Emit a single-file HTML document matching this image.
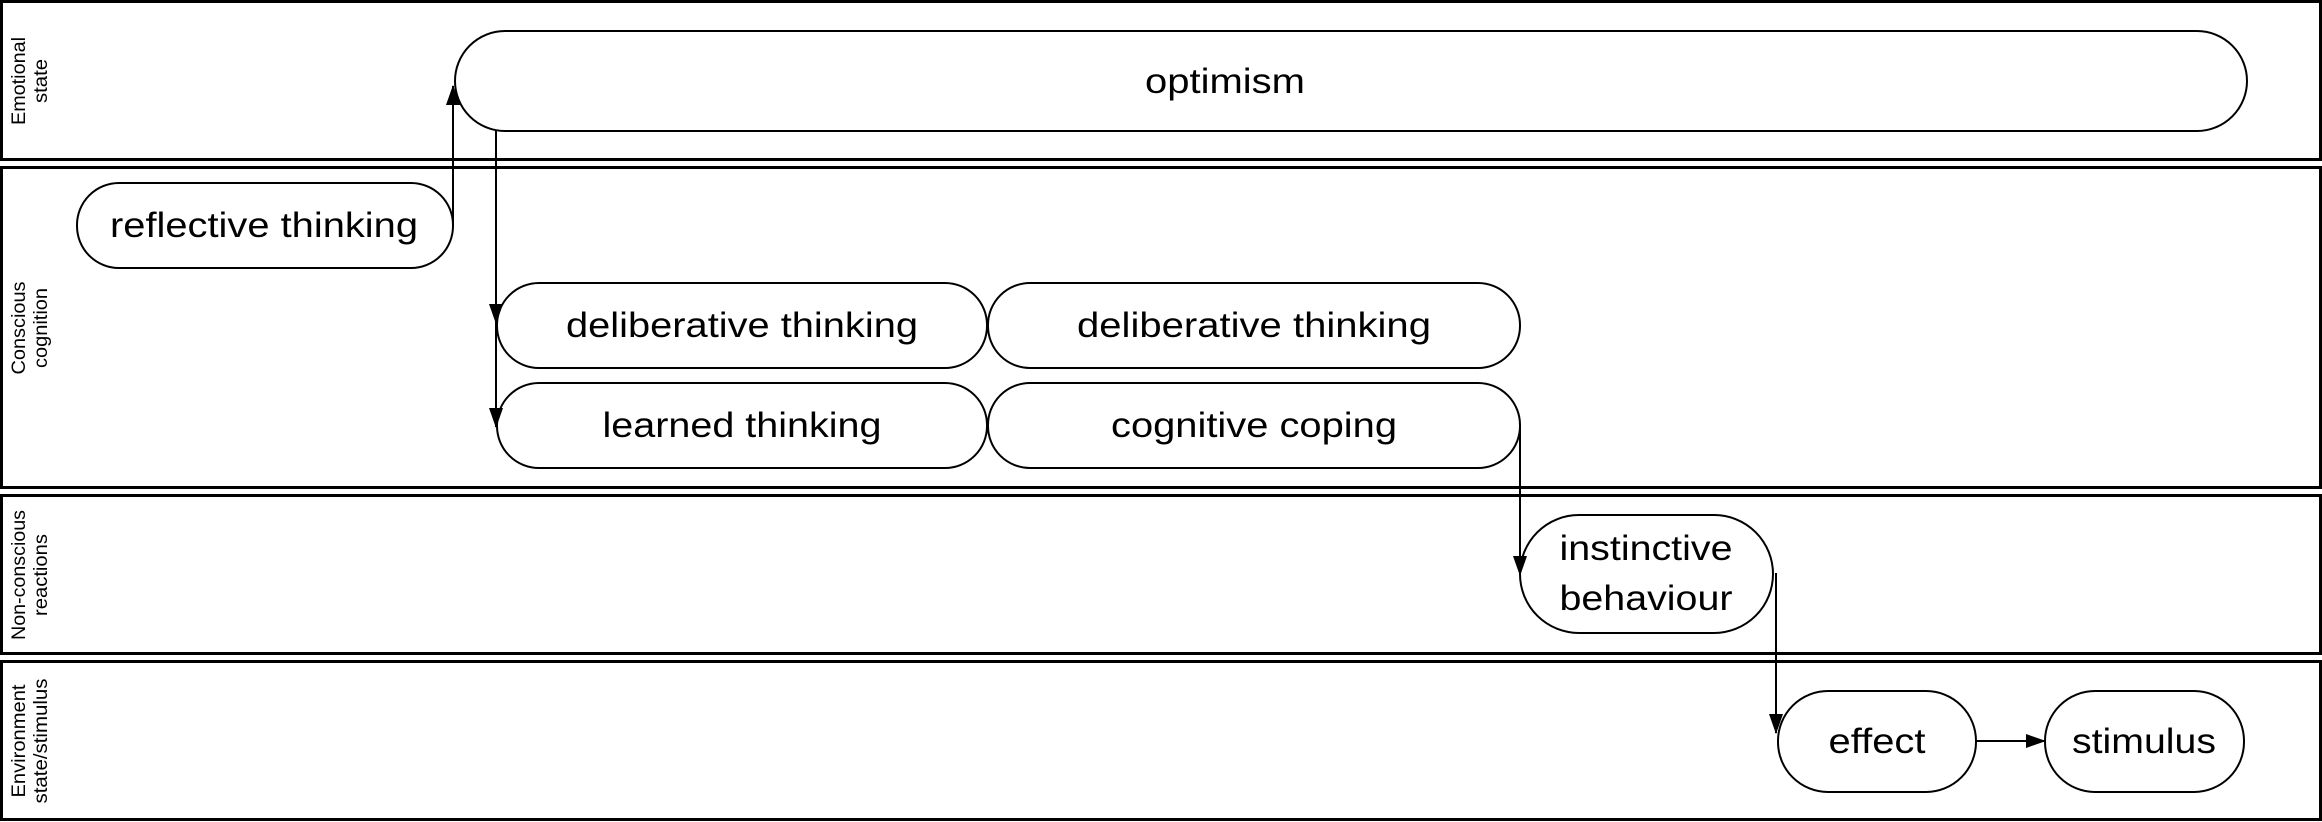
<!DOCTYPE html>
<html><head><meta charset="utf-8"><style>
html,body{margin:0;padding:0;background:#fff}
svg{display:block}
text{font-family:"Liberation Sans",Arial,sans-serif;fill:#000}
</style></head><body>
<svg width="2322" height="822" viewBox="0 0 2322 822" xmlns="http://www.w3.org/2000/svg">
<defs>
<marker id="b" markerWidth="20" markerHeight="14" refX="19" refY="7" orient="auto" markerUnits="userSpaceOnUse">
<path d="M0,0 L20,7 L0,14 z" fill="#000"/></marker>
</defs>
<g fill="none" stroke="#000" stroke-width="3">
<rect x="1.5" y="1.5" width="2319" height="158"/>
<rect x="1.5" y="167.5" width="2319" height="320"/>
<rect x="1.5" y="495.5" width="2319" height="158"/>
<rect x="1.5" y="661.5" width="2319" height="158"/>
</g>
<g font-size="19">
<text transform="translate(25,81) rotate(-90)" text-anchor="middle" textLength="88" lengthAdjust="spacingAndGlyphs">Emotional</text>
<text transform="translate(47,81) rotate(-90)" text-anchor="middle" textLength="44" lengthAdjust="spacingAndGlyphs">state</text>
<text transform="translate(25,328) rotate(-90)" text-anchor="middle" textLength="93" lengthAdjust="spacingAndGlyphs">Conscious</text>
<text transform="translate(47,328) rotate(-90)" text-anchor="middle" textLength="80" lengthAdjust="spacingAndGlyphs">cognition</text>
<text transform="translate(25,575) rotate(-90)" text-anchor="middle" textLength="130" lengthAdjust="spacingAndGlyphs">Non-conscious</text>
<text transform="translate(47,575) rotate(-90)" text-anchor="middle" textLength="82" lengthAdjust="spacingAndGlyphs">reactions</text>
<text transform="translate(25,741) rotate(-90)" text-anchor="middle" textLength="113" lengthAdjust="spacingAndGlyphs">Environment</text>
<text transform="translate(47,741) rotate(-90)" text-anchor="middle" textLength="125" lengthAdjust="spacingAndGlyphs">state/stimulus</text>
</g>
<g fill="#fff" stroke="#000" stroke-width="2">
<rect x="455" y="31" width="1792" height="100" rx="50" ry="50"/>
<rect x="77" y="183" width="376" height="85" rx="42" ry="42"/>
<rect x="497" y="283" width="490" height="85" rx="42" ry="42"/>
<rect x="988" y="283" width="532" height="85" rx="42" ry="42"/>
<rect x="497" y="383" width="490" height="85" rx="42" ry="42"/>
<rect x="988" y="383" width="532" height="85" rx="42" ry="42"/>
<rect x="1520" y="515" width="253" height="118" rx="59" ry="59"/>
<rect x="1778" y="691" width="198" height="101" rx="50" ry="50"/>
<rect x="2045" y="691" width="199" height="101" rx="50" ry="50"/>
</g>
<g fill="none" stroke="#000" stroke-width="2">
<path d="M453,225 V86" marker-end="url(#b)"/>
<path d="M496,131 V323" marker-end="url(#b)"/>
<path d="M496,320 V427" marker-end="url(#b)"/>
<path d="M1520,425 V575" marker-end="url(#b)"/>
<path d="M1776,573 V733" marker-end="url(#b)"/>
<path d="M1976,741 H2045" marker-end="url(#b)"/>
</g>
<g font-size="35" text-anchor="middle">
<text x="1225" y="93" textLength="160" lengthAdjust="spacingAndGlyphs">optimism</text>
<text x="264" y="237" textLength="308" lengthAdjust="spacingAndGlyphs">reflective thinking</text>
<text x="742" y="337" textLength="352" lengthAdjust="spacingAndGlyphs">deliberative thinking</text>
<text x="1254" y="337" textLength="354" lengthAdjust="spacingAndGlyphs">deliberative thinking</text>
<text x="742" y="437" textLength="279" lengthAdjust="spacingAndGlyphs">learned thinking</text>
<text x="1254" y="437" textLength="286" lengthAdjust="spacingAndGlyphs">cognitive coping</text>
<text x="1646" y="560" textLength="173" lengthAdjust="spacingAndGlyphs">instinctive</text>
<text x="1646" y="610" textLength="173" lengthAdjust="spacingAndGlyphs">behaviour</text>
<text x="1877" y="753" textLength="97" lengthAdjust="spacingAndGlyphs">effect</text>
<text x="2144" y="753" textLength="144" lengthAdjust="spacingAndGlyphs">stimulus</text>
</g>
</svg>
</body></html>
